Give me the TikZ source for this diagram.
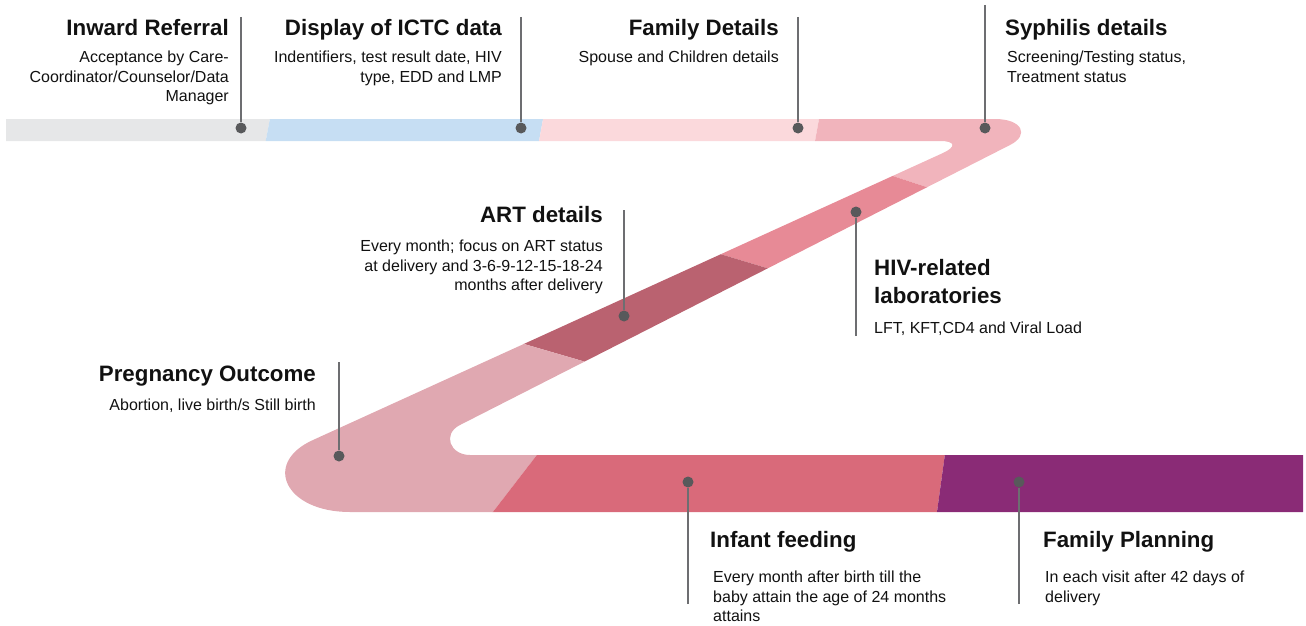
\documentclass[tikz,border=0pt]{standalone}
\usepackage{fontspec}
\setmainfont{Liberation Sans}
\usetikzlibrary{calc}
\definecolor{rbgray}{HTML}{E6E7E8}
\definecolor{rbblue}{HTML}{C6DEF3}
\definecolor{rbblush}{HTML}{FBD9DC}
\definecolor{rbpink}{HTML}{F1B4BC}
\definecolor{rbrose}{HTML}{E78A96}
\definecolor{rbwine}{HTML}{BA6270}
\definecolor{rbmauve}{HTML}{E0A8B1}
\definecolor{rbcoral}{HTML}{D96A7A}
\definecolor{rbplum}{HTML}{8A2B76}
\definecolor{rbink}{HTML}{58595B}
\definecolor{rbline}{HTML}{6D6E71}
\definecolor{rbtext}{HTML}{111111}
\tikzset{
  head/.style={inner sep=0pt, font=\fontsize{22.3}{28}\selectfont\bfseries, text=rbtext},
  desc/.style={inner sep=0pt, font=\fontsize{16}{19.5}\selectfont, text=rbtext},
  pin/.style={circle, fill=rbink, inner sep=0pt, minimum size=11pt},
  lead/.style={draw=rbline, line width=1.4pt},
}

\begin{document}
\begin{tikzpicture}[x=1pt, y=-1pt]
  \useasboundingbox (0,0) rectangle (1306,626);
  % the ribbon, cut into coloured stretches
  \begin{scope}
    \clip (6,119) -- (995,119) .. controls (1022,119) and (1030,135) .. (1010,145)
      -- (460,425) .. controls (442,434) and (450,455) .. (470,455)
      -- (1303,455) -- (1303,512) -- (350,512) .. controls (285,512) and (262,463) .. (313,440)
      -- (943,153) .. controls (956,147) and (956,141) .. (940,141) -- (6,141) -- cycle;
    \fill[rbgray] (0,100) -- (273.5,100) -- (264,150) -- (0,150) -- cycle;
    \fill[rbblue] (273.5,100) -- (546.5,100) -- (537.4,150) -- (264,150) -- cycle;
    \fill[rbblush] (546.5,100) -- (822.5,100) -- (813.4,150) -- (537.4,150) -- cycle;
    \fill[rbpink] (822.5,100) -- (1080,100) -- (1080,210) -- (960,198) -- (850,162) -- (813.4,150) -- cycle;
    \fill[rbrose] (850,162) -- (960,198) -- (790,275) -- (700,248) -- cycle;
    \fill[rbwine] (700,248) -- (790,275) -- (610,369) -- (500,337) -- cycle;
    \fill[rbmauve] (500,337) -- (610,369) -- (560,425) -- (479,530) -- (250,530) -- (250,337) -- cycle;
    \fill[rbcoral] (560,425) -- (949,425) -- (934.5,530) -- (479,530) -- cycle;
    \fill[rbplum] (949,425) -- (1320,425) -- (1320,530) -- (934.5,530) -- cycle;
  \end{scope}

  % leaders and dots
  \node[pin] (inwdot) at (241,128) {};
  \node[pin] (ictdot) at (521,128) {};
  \node[pin] (famdot) at (798,128) {};
  \node[pin] (syphdot) at (985,128) {};
  \node[pin] (hivdot) at (856,212) {};
  \node[pin] (artdot) at (624,316) {};
  \node[pin] (pregdot) at (339,456) {};
  \node[pin] (infdot) at (688,482) {};
  \node[pin] (fpdot) at (1019,482) {};
  \coordinate (inwend) at (241,17);
  \coordinate (ictend) at (521,17);
  \coordinate (famend) at (798,17);
  \coordinate (syphend) at (985,5);
  \coordinate (hivend) at (856,336);
  \coordinate (artend) at (624,210);
  \coordinate (pregend) at (339,362);
  \coordinate (infend) at (688,604);
  \coordinate (fpend) at (1019,604);
  \draw[lead] (inwend) -- (inwdot);
  \draw[lead] (ictend) -- (ictdot);
  \draw[lead] (famend) -- (famdot);
  \draw[lead] (syphend) -- (syphdot);
  \draw[lead] (hivend) -- (hivdot);
  \draw[lead] (artend) -- (artdot);
  \draw[lead] (pregend) -- (pregdot);
  \draw[lead] (infend) -- (infdot);
  \draw[lead] (fpend) -- (fpdot);

  % labels
  \node[head, anchor=base east] (inwhead) at (229,36) {Inward Referral};
  \node[desc, anchor=north east, align=right] (inwdesc) at (229,51) {Acceptance by Care-\\Coordinator/Counselor/Data\\Manager};
  \node[head, anchor=base east] (icthead) at (502,36) {Display of ICTC data};
  \node[desc, anchor=north east, align=right] (ictdesc) at (502,51) {Indentifiers, test result date, HIV\\type, EDD and LMP};
  \node[head, anchor=base east] (famhead) at (779,36) {Family Details};
  \node[desc, anchor=north east, align=right] (famdesc) at (779,51) {Spouse and Children details};
  \node[head, anchor=base west] (syphhead) at (1005,36) {Syphilis details};
  \node[desc, anchor=north west, align=left] (syphdesc) at (1007,51) {Screening/Testing status,\\Treatment status};
  \node[head, anchor=base east] (arthead) at (603,222) {ART details};
  \node[desc, anchor=north east, align=right] (artdesc) at (603,240) {Every month; focus on ART status\\at delivery and 3-6-9-12-15-18-24\\months after delivery};
  \node[head, anchor=north west, align=left] (hivhead) at (874,259) {HIV-related\\laboratories};
  \node[desc, anchor=north west, align=left] (hivdesc) at (874,322) {LFT, KFT,CD4 and Viral Load};
  \node[head, anchor=base east] (preghead) at (316,381) {Pregnancy Outcome};
  \node[desc, anchor=north east, align=right] (pregdesc) at (316,399) {Abortion, live birth/s Still birth};
  \node[head, anchor=base west] (infhead) at (710,547) {Infant feeding};
  \node[desc, anchor=north west, align=left] (infdesc) at (713,571) {Every month after birth till the\\baby attain the age of 24 months\\attains};
  \node[head, anchor=base west] (fphead) at (1043,547) {Family Planning};
  \node[desc, anchor=north west, align=left] (fpdesc) at (1045,571) {In each visit after 42 days of\\delivery};
\end{tikzpicture}
\end{document}
